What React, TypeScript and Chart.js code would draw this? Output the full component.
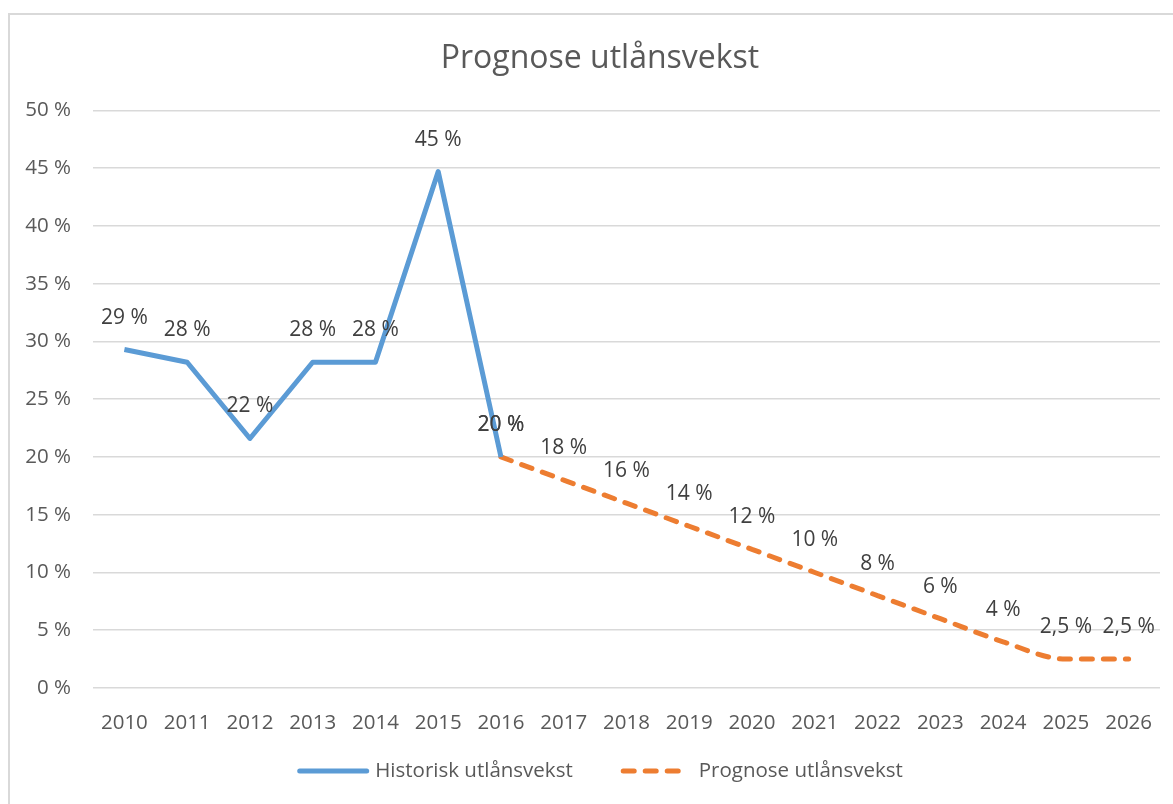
import React, { useEffect, useRef } from "react";
import { Chart, registerables } from "chart.js";

Chart.register(...registerables);

const years = ["2010", "2011", "2012", "2013", "2014", "2015", "2016", "2017", "2018", "2019", "2020", "2021", "2022", "2023", "2024", "2025", "2026"];
const historic = [29.3, 28.2, 21.6, 28.2, 28.2, 44.7, 20.0, null, null, null, null, null, null, null, null, null, null];
const forecast = [null, null, null, null, null, null, 20, 18, 16, 14, 12, 10, 8, 6, 4, 2.5, 2.5];
const seriesNames = ["Historisk utlånsvekst", "Prognose utlånsvekst"];
const titleText = "Prognose utlånsvekst";
const yMin = 0;
const yMax = 50;
const yStep = 5;

const FONT = '"Open Sans", sans-serif';
const TEXT = "#595959";
const LABEL = "#404040";
const BLUE = "#5B9BD5";
const ORANGE = "#ED7D31";
const DASH = [11, 11];

const fmtPct = (v: number) => `${v}`.replace(".", ",") + " %";
const formatters = [
  (v: number) => `${Math.round(v)} %`,
  (v: number) => fmtPct(Math.round(v * 10) / 10),
];

const borderPlugin = {
  id: "borderPlugin",
  beforeDraw(chart: any) {
    const ctx = chart.ctx;
    ctx.save();
    ctx.fillStyle = "#ffffff";
    ctx.fillRect(0, 0, chart.width, chart.height);
    ctx.strokeStyle = "#d9d9d9";
    ctx.lineWidth = 2;
    ctx.strokeRect(1, 1, chart.width - 2, chart.height - 2);
    ctx.restore();
  },
};

const titleCenterPlugin = {
  id: "titleCenterPlugin",
  afterLayout(chart: any) {
    if (chart.titleBlock) {
      chart.titleBlock.left = 0;
      chart.titleBlock.right = chart.width;
    }
  },
};

const dataLabelPlugin = {
  id: "dataLabelPlugin",
  afterDatasetsDraw(chart: any) {
    const ctx = chart.ctx;
    ctx.save();
    ctx.font = `21px ${FONT}`;
    ctx.fillStyle = LABEL;
    ctx.textAlign = "center";
    ctx.textBaseline = "middle";
    chart.data.datasets.forEach((ds: any, i: number) => {
      const meta = chart.getDatasetMeta(i);
      meta.data.forEach((pt: any, j: number) => {
        const v = ds.data[j];
        if (v == null) return;
        ctx.fillText(formatters[i](v), pt.x, pt.y - 32);
      });
    });
    ctx.restore();
  },
};

const legendPlugin = {
  id: "customLegend",
  afterDraw(chart: any) {
    const ctx = chart.ctx;
    ctx.save();
    ctx.font = `20.5px ${FONT}`;
    const sample = 72;
    const gapText = 6;
    const gapItem = 48;
    const items = chart.data.datasets.map((ds: any) => ({
      text: ds.label,
      color: ds.borderColor,
      dashed: !!(ds.borderDash && ds.borderDash.length),
      w: ctx.measureText(ds.label).width,
    }));
    let total = 0;
    items.forEach((it: any, i: number) => {
      total += sample + gapText + it.w + (i < items.length - 1 ? gapItem : 0);
    });
    let x = chart.width / 2 - total / 2;
    const y = 758;
    items.forEach((it: any) => {
      ctx.beginPath();
      ctx.strokeStyle = it.color;
      ctx.lineWidth = 5;
      ctx.lineCap = "round";
      if (it.dashed) {
        ctx.setLineDash(DASH);
        ctx.moveTo(x + 2.5, y);
        ctx.lineTo(x + 61, y);
      } else {
        ctx.setLineDash([]);
        ctx.moveTo(x + 2.5, y);
        ctx.lineTo(x + sample - 2.5, y);
      }
      ctx.stroke();
      ctx.setLineDash([]);
      ctx.fillStyle = TEXT;
      ctx.textAlign = "left";
      ctx.textBaseline = "middle";
      const tx = x + (it.dashed ? 78 : sample + gapText);
      ctx.fillText(it.text, tx, y);
      x = tx + it.w + gapItem;
    });
    ctx.restore();
  },
};

export default function App() {
  const ref = useRef<HTMLCanvasElement | null>(null);
  useEffect(() => {
    if (!ref.current) return;
    const chart = new Chart(ref.current, {
      type: "line",
      data: {
        labels: years,
        datasets: [
          {
            label: seriesNames[0],
            data: historic,
            borderColor: BLUE,
            backgroundColor: BLUE,
            borderWidth: 5,
            pointRadius: 0,
            tension: 0,
            borderJoinStyle: "round",
          },
          {
            label: seriesNames[1],
            data: forecast,
            borderColor: ORANGE,
            backgroundColor: ORANGE,
            borderWidth: 5,
            borderDash: DASH,
            borderCapStyle: "round",
            pointRadius: 0,
            cubicInterpolationMode: "monotone",
          },
        ],
      },
      options: {
        responsive: false,
        maintainAspectRatio: false,
        animation: false,
        events: [],
        layout: { padding: { left: 0, right: 32, top: 0, bottom: 75 } },
        plugins: {
          legend: { display: false },
          tooltip: { enabled: false },
          title: {
            display: true,
            text: titleText,
            color: TEXT,
            font: { family: FONT, size: 32, weight: "normal" },
            padding: { top: 27, bottom: 32 },
          },
        },
        scales: {
          x: {
            offset: true,
            grid: { display: false, offset: true },
            border: { display: false },
            ticks: {
              font: { family: FONT, size: 20.5 },
              color: TEXT,
              padding: 15,
              maxRotation: 0,
              autoSkip: false,
            },
            afterFit: (s: any) => {
              s.height = 50;
            },
          },
          y: {
            min: yMin,
            max: yMax,
            grid: { color: "#d9d9d9", lineWidth: 1.5, drawTicks: false },
            border: { display: false },
            ticks: {
              stepSize: yStep,
              padding: 22,
              font: { family: FONT, size: 20.5 },
              color: TEXT,
              callback: (v: any) => `${v} %`,
            },
            afterFit: (s: any) => {
              s.width = 85;
            },
          },
        },
      },
      plugins: [borderPlugin, titleCenterPlugin, dataLabelPlugin, legendPlugin],
    });
    return () => chart.destroy();
  }, []);

  return (
    <div style={{ position: "fixed", left: 0, top: 0, width: 1173, height: 804, overflow: "hidden", background: "#fff" }}>
      <div style={{ position: "absolute", left: 8, top: 13, width: 1184, height: 800 }}>
        <canvas ref={ref} width={1184} height={800} style={{ width: 1184, height: 800 }} />
      </div>
    </div>
  );
}
